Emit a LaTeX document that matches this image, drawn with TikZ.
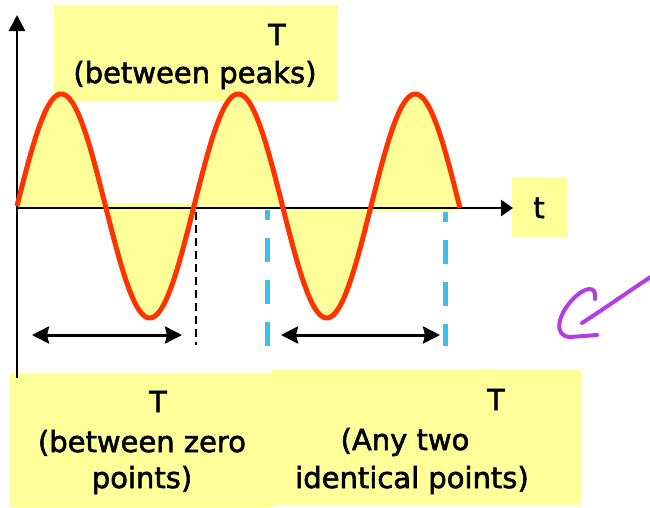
\documentclass[tikz,border=0pt]{standalone}
\usepackage{fontspec}
\setmainfont{DejaVu Sans}
\newfontfamily\lblfont{DejaVu Sans}[FakeBold=2]
\usetikzlibrary{arrows.meta}
\definecolor{hl}{RGB}{255,255,153}
\definecolor{wave}{RGB}{255,51,0}
\definecolor{marker}{RGB}{61,190,240}
\definecolor{ink}{RGB}{180,60,230}
\begin{document}
\begin{tikzpicture}[x=1pt,y=-1pt,
  lbl/.style={font=\lblfont\fontsize{29}{35}\selectfont, anchor=base, inner sep=0pt},
  hlfill/.style={fill=hl, draw=none},
  yaxis/.style={line width=2.7pt, -{Triangle[length=16pt,width=16pt]}},
  xaxis/.style={line width=2.7pt, -{Triangle[length=12pt,width=16pt]}},
  span/.style={line width=3pt, {Stealth[length=17pt,width=17pt,inset=2pt]}-{Stealth[length=17pt,width=17pt,inset=2pt]}},
  zeromark/.style={line width=1.5pt, dash pattern=on 8pt off 5pt},
  bluemark/.style={marker, line width=5pt, dash pattern=on 24pt off 18pt, dash phase=14pt},
  wavestyle/.style={wave, line width=5pt, line join=round},
  pen/.style={ink, line width=4pt, line cap=round, line join=round}]
\useasboundingbox (0,0) rectangle (650,507);
% yellow label boxes
\fill[hlfill] (54,5) rectangle (338,101);
\fill[hlfill] (10,373) rectangle (274,507);
\fill[hlfill] (272,370) rectangle (581,505);
\fill[hlfill] (512,178) rectangle (567,237);
% fill under wave
\fill[hlfill] (17,207) -- plot[domain=17:460, samples=250] (\x,{206-112*sin((\x-17)/177*360)}) -- (460,207) -- cycle;
\fill[hlfill] (108,204) rectangle (194,208);
\fill[hlfill] (371,208) rectangle (460,212);
% coordinates
\coordinate (ybot) at (17,378);
\coordinate (ytop) at (17,15);
\coordinate (O) at (17,208);
\coordinate (xend) at (513,208);
\coordinate (z1) at (196,212);
\coordinate (z2) at (196,345);
\coordinate (b1t) at (267,210);
\coordinate (b1b) at (267,348);
\coordinate (b2t) at (445,212);
\coordinate (b2b) at (445,346);
\coordinate (a1l) at (32,335);
\coordinate (a1r) at (182,335);
\coordinate (a2l) at (281,335);
\coordinate (a2r) at (440,335);
% axes
\draw[yaxis] (ybot) -- (ytop);
\draw[xaxis] (O) -- (xend);
% wave
\draw[wavestyle] plot[domain=17:460, samples=250] (\x,{206-112*sin((\x-17)/177*360)});
% markers
\draw[zeromark] (z1) -- (z2);
\draw[bluemark] (b1t) -- (b1b);
\draw[bluemark] (b2t) -- (b2b);
% spans
\draw[span] (a1l) -- (a1r);
\draw[span] (a2l) -- (a2r);
% hand drawn arrow
\coordinate (p0) at (652,276);
\coordinate (p1) at (582,323);
\coordinate (h0) at (595,299);
\coordinate (h1) at (597,335);
\draw[pen] (p0) .. controls (625,294) and (605,308) .. (p1);
\draw[pen] (h0) .. controls (597,285) and (585,286) .. (572,300)
  .. controls (558,315) and (553,336) .. (570,337) -- (h1);
% labels
\node[lbl] (tp) at (277,45) {T};
\node[lbl] (bp) at (195,83) {(between peaks)};
\node[lbl] (t1) at (158,412) {T};
\node[lbl] (bz1) at (142,452) {(between zero};
\node[lbl] (bz2) at (142,488) {points)};
\node[lbl] (t2) at (496,410) {T};
\node[lbl] (at1) at (405,450) {(Any two};
\node[lbl] (at2) at (412,488) {identical points)};
\node[lbl] (tl) at (539,218) {t};
\end{tikzpicture}
\end{document}
